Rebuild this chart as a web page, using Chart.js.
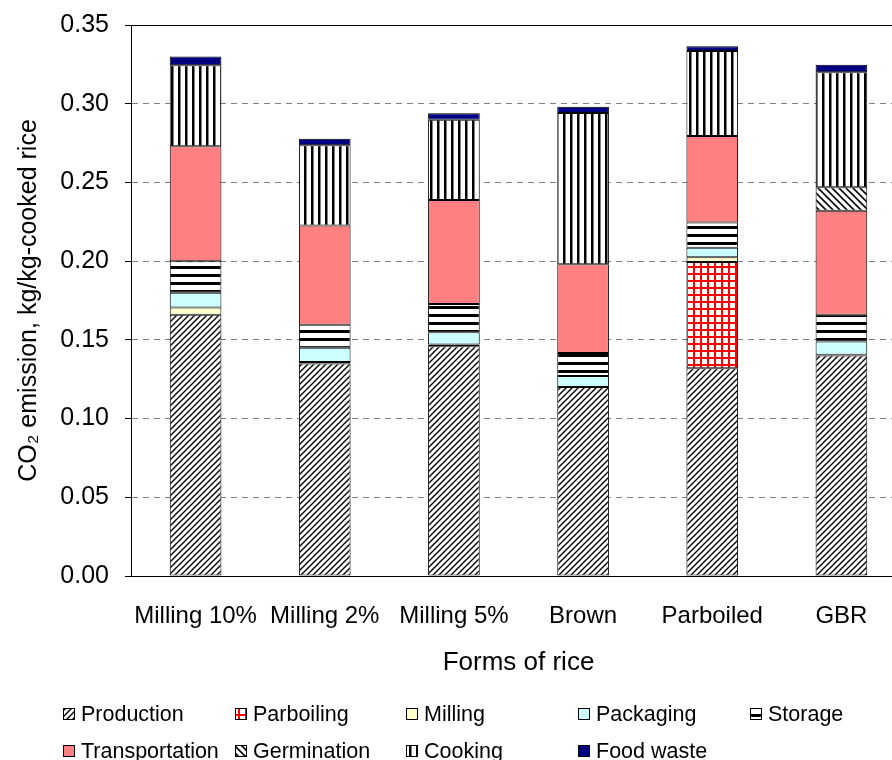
<!DOCTYPE html>
<html>
<head>
<meta charset="utf-8">
<script src="https://cdn.jsdelivr.net/npm/chart.js@4"></script>
<style>
  html, body { margin: 0; padding: 0; background: #fff; overflow: hidden; }
  #wrap { width: 910px; height: 760px; }
</style>
</head>
<body>
<div id="wrap"><canvas id="c" width="910" height="760"></canvas></div>
<script>
// ---- data ----
const categories = ['Milling 10%', 'Milling 2%', 'Milling 5%', 'Brown', 'Parboiled', 'GBR'];
const production     = [0.166, 0.135, 0.146, 0.120, 0.132, 0.140];
const parboiling     = [null, null, null, null, 0.0675, null];
const milling        = [0.0045, 0.001, 0.001, null, 0.003, 0.0005];
const packaging      = [0.0095, 0.009, 0.0078, 0.007, 0.006, 0.0085];
const storage        = [0.020, 0.0146, 0.018, 0.0146, 0.016, 0.017];
const transportation = [0.073, 0.063, 0.066, 0.0565, 0.055, 0.066];
const germination    = [null, null, null, null, null, 0.015];
const cooking        = [0.0515, 0.051, 0.051, 0.096, 0.054, 0.073];
const foodWaste      = [0.0055, 0.0042, 0.0042, 0.004, 0.003, 0.0047];
const yTicks = [0.00, 0.05, 0.10, 0.15, 0.20, 0.25, 0.30, 0.35];
const seriesNames = ['Production', 'Parboiling', 'Milling', 'Packaging', 'Storage',
                     'Transportation', 'Germination', 'Cooking', 'Food waste'];

// ---- patterns ----
function makePattern(w, h, draw) {
  const c = document.createElement('canvas');
  c.width = w; c.height = h;
  const g = c.getContext('2d');
  g.fillStyle = '#fff'; g.fillRect(0, 0, w, h);
  draw(g, w, h);
  return document.createElement('canvas').getContext('2d').createPattern(c, 'repeat');
}
const pProduction = makePattern(6, 6, (g, w, h) => {
  g.strokeStyle = '#000'; g.lineWidth = 1.4;
  g.beginPath();
  g.moveTo(-1, h + 1); g.lineTo(w + 1, -1);
  g.moveTo(-1 - w, h + 1); g.lineTo(1, -1);
  g.moveTo(w - 1, h + 1); g.lineTo(2 * w + 1, -1);
  g.stroke();
});
const pGermination = makePattern(7, 7, (g, w, h) => {
  g.strokeStyle = '#000'; g.lineWidth = 1.6;
  g.beginPath();
  g.moveTo(-1, -1); g.lineTo(w + 1, h + 1);
  g.moveTo(-1 - w, -1); g.lineTo(1, h + 1);
  g.moveTo(w - 1, -1); g.lineTo(2 * w + 1, h + 1);
  g.stroke();
});
const pCooking = makePattern(7, 7, (g, w, h) => {
  g.fillStyle = '#000'; g.fillRect(3, 0, 2.5, h);
});
const pStorage = makePattern(8, 8, (g, w, h) => {
  g.fillStyle = '#000'; g.fillRect(0, 2, w, 3);
});
const pParboiling = makePattern(7, 7, (g, w, h) => {
  g.fillStyle = '#ff0000';
  g.fillRect(0, 0, w, 2);
  g.fillRect(0, 0, 2, h);
});

const fills = [pProduction, pParboiling, '#ffffcc', '#ccffff', pStorage,
               '#ff8080', pGermination, pCooking, '#000080'];
const values = [production, parboiling, milling, packaging, storage,
                transportation, germination, cooking, foodWaste];

const datasets = seriesNames.map((name, i) => ({
  label: name,
  data: values[i],
  backgroundColor: fills[i],
  borderColor: '#000',
  borderWidth: 1,
  borderSkipped: false,
  categoryPercentage: 0.8,
  barPercentage: 0.5
}));

const FONT = "'Liberation Sans', Arial, sans-serif";
Chart.defaults.font.family = FONT;
Chart.defaults.color = '#000';

// ---- legend plugin (two rows, aligned columns) ----
const legendPlugin = {
  id: 'gridLegend',
  afterDraw(chart) {
    const ctx = chart.ctx;
    const colX = [63, 235, 406, 578, 750];
    const rowY = [714, 751];
    ctx.save();
    ctx.font = '21.5px ' + FONT;
    ctx.textBaseline = 'middle';
    chart.data.datasets.forEach((ds, i) => {
      const col = i % 5, row = Math.floor(i / 5);
      const x = colX[col], y = rowY[row];
      ctx.fillStyle = ds.backgroundColor;
      ctx.fillRect(x, y - 6, 12, 12);
      ctx.strokeStyle = '#000';
      ctx.lineWidth = 1;
      ctx.strokeRect(x + 0.5, y - 5.5, 11, 11);
      ctx.fillStyle = '#000';
      ctx.fillText(ds.label, x + 18, y + 1);
    });
    ctx.restore();
  }
};

new Chart(document.getElementById('c'), {
  type: 'bar',
  data: { labels: categories, datasets },
  options: {
    responsive: false,
    animation: false,
    layout: { padding: { left: 0, right: 4, top: 25, bottom: 70 } },
    plugins: {
      legend: { display: false },
      tooltip: { enabled: false }
    },
    scales: {
      x: {
        stacked: true,
        grid: { display: false },
        border: { display: true, color: '#000', width: 1 },
        ticks: { font: { size: 24 }, padding: 18, color: '#000', maxRotation: 0 },
        title: { display: true, text: 'Forms of rice', font: { size: 26 }, color: '#000',
                 padding: { top: 10, bottom: 12 } },
        afterFit(scale) { scale.height = 114; }
      },
      y: {
        stacked: true,
        min: 0, max: 0.35,
        afterBuildTicks(scale) { scale.ticks = yTicks.map(v => ({ value: v })); },
        ticks: {
          font: { size: 25 }, padding: 16, color: '#000',
          callback: v => Number(v).toFixed(2)
        },
        grid: {
          color: c => (c.tick && (Math.abs(c.tick.value - 0.35) < 1e-9 || c.tick.value === 0)) ? '#000' : '#808080',
          lineWidth: 1,
          tickLength: 6,
          tickColor: '#000'
        },
        border: {
          display: true, color: '#000', width: 1,
          dash: c => (c.tick && Math.abs(c.tick.value - 0.35) < 1e-9) ? [] : [6, 5]
        },
        title: { display: true, text: 'CO₂ emission, kg/kg-cooked rice', font: { size: 25 }, color: '#000',
                 padding: { top: 14, bottom: 0 } },
        afterFit(scale) { scale.width = 131; scale.paddingTop = 0; scale.paddingBottom = 0; }
      }
    }
  },
  plugins: [legendPlugin]
});
</script>
</body>
</html>
